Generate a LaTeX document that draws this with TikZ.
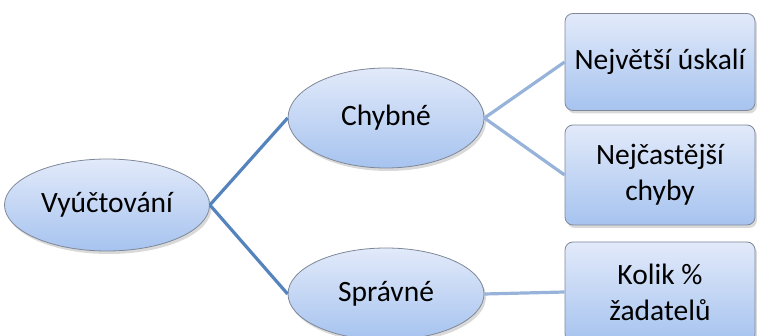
\documentclass[tikz,border=0pt]{standalone}
\usepackage{fontspec}
\setmainfont{Carlito}
\usetikzlibrary{shapes.geometric,shadows}
\definecolor{topc}{HTML}{E2EAFA}
\definecolor{botc}{HTML}{A6C3EF}
\definecolor{edgec}{HTML}{7F8898}
\definecolor{darkline}{HTML}{5583BD}
\definecolor{lightline}{HTML}{98B3DA}
\tikzset{
  base/.style={draw=edgec, line width=0.8pt, top color=topc, bottom color=botc,
    drop shadow={opacity=0.3, shadow xshift=2pt, shadow yshift=-3pt},
    font=\fontsize{29.5}{36}\selectfont, align=center, inner sep=0pt},
  oval/.style={base, ellipse},
  card/.style={base, rectangle, rounded corners=8pt},
  darkconn/.style={draw=darkline, line width=3.2pt},
  lightconn/.style={draw=lightline, line width=3.2pt}
}
\begin{document}
\begin{tikzpicture}[x=1pt,y=-1pt]
\useasboundingbox (0,0) rectangle (757,336);
\node[oval, minimum width=205pt, minimum height=92pt] (root) at (107,205) {Vyúčtování};
\node[oval, minimum width=196pt, minimum height=100pt] (chyb) at (386,118) {Chybné};
\node[oval, minimum width=196pt, minimum height=92pt] (spr) at (386,294) {Správné};
\node[card, minimum width=190pt, minimum height=97pt] (b1) at (660,62) {Největší úskalí};
\node[card, minimum width=190pt, minimum height=100pt] (b2) at (660,175) {Nejčastější\\chyby};
\node[card, minimum width=190pt, minimum height=100pt] (b3) at (660,292) {Kolik \%\\žadatelů};
\draw[darkconn] (root.east) -- (chyb.west);
\draw[darkconn] (root.east) -- (spr.west);
\draw[lightconn] (chyb.east) -- (b1.west);
\draw[lightconn] (chyb.east) -- (b2.west);
\draw[lightconn] (spr.east) -- (b3.west);
\end{tikzpicture}
\end{document}
